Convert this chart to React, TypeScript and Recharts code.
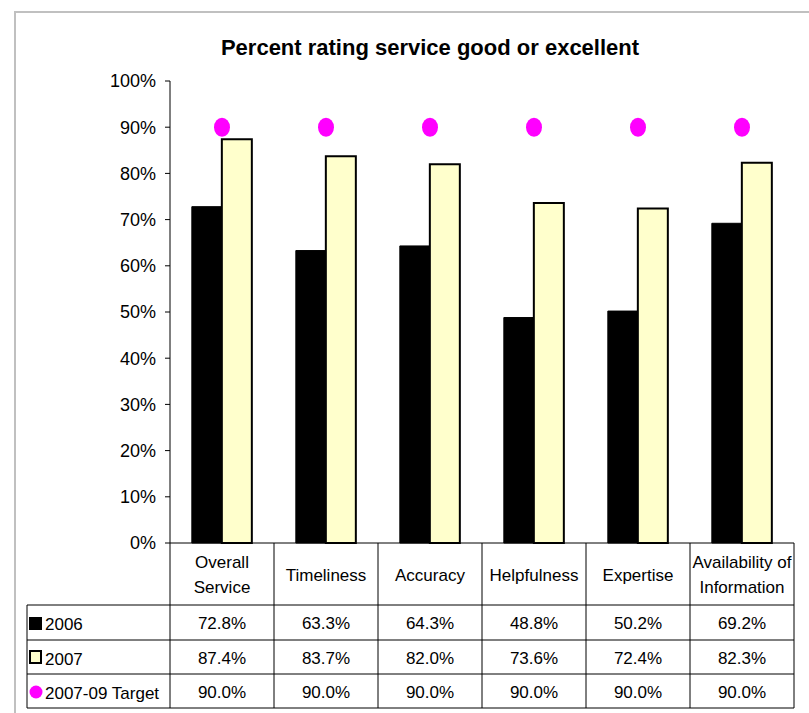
import React from "react";
import { ComposedChart, Bar, Line, XAxis, YAxis } from "recharts";

const categories = [
  "Overall Service",
  "Timeliness",
  "Accuracy",
  "Helpfulness",
  "Expertise",
  "Availability of Information",
];
const categoryLines = [
  ["Overall", "Service"],
  ["Timeliness"],
  ["Accuracy"],
  ["Helpfulness"],
  ["Expertise"],
  ["Availability of", "Information"],
];
const values2006 = [72.8, 63.3, 64.3, 48.8, 50.2, 69.2];
const values2007 = [87.4, 83.7, 82.0, 73.6, 72.4, 82.3];
const target = [90, 90, 90, 90, 90, 90];
const yTicks = [0, 10, 20, 30, 40, 50, 60, 70, 80, 90, 100];
const seriesNames = ["2006", "2007", "2007-09 Target"];
const title = "Percent rating service good or excellent";

const W = 809;
const H = 713;
const PLOT_LEFT = 170;
const PLOT_RIGHT = 794;
const PLOT_TOP = 81;
const PLOT_BOTTOM = 543;
const COL_W = (PLOT_RIGHT - PLOT_LEFT) / categories.length;
const TABLE_LEFT = 27;
const ROW_LINES = [605, 640, 674, 708];
const FONT = "Arial, 'Liberation Sans', sans-serif";

const data = categories.map((c, i) => ({
  name: c,
  v2006: values2006[i],
  v2007: values2007[i],
  target: target[i],
}));

const fmt = (v: number) => v.toFixed(1) + "%";

const CatTick = (props: any) => {
  const { x, payload } = props;
  const idx = categories.indexOf(payload.value);
  const lines = categoryLines[idx] || [payload.value];
  const headerCenter = (PLOT_BOTTOM + ROW_LINES[0]) / 2 + 1;
  const rows = [values2006[idx], values2007[idx], target[idx]];
  return (
    <g>
      {lines.map((l, i) => (
        <text
          key={i}
          x={x}
          y={headerCenter + (i - (lines.length - 1) / 2) * 25}
          dy="0.35em"
          textAnchor="middle"
          fontSize={17}
          fontFamily={FONT}
          fill="#000"
        >
          {l}
        </text>
      ))}
      {rows.map((v, r) => (
        <text
          key={"r" + r}
          x={x}
          y={(ROW_LINES[r] + ROW_LINES[r + 1]) / 2 + 1}
          dy="0.35em"
          textAnchor="middle"
          fontSize={17}
          fontFamily={FONT}
          fill="#000"
        >
          {fmt(v)}
        </text>
      ))}
      <line
        x1={x + COL_W / 2}
        x2={x + COL_W / 2}
        y1={PLOT_BOTTOM}
        y2={ROW_LINES[3]}
        stroke="#000"
        strokeWidth={1}
      />
      {idx === 0 && (
        <line
          x1={x - COL_W / 2}
          x2={x - COL_W / 2}
          y1={PLOT_BOTTOM}
          y2={ROW_LINES[3]}
          stroke="#000"
          strokeWidth={1}
        />
      )}
    </g>
  );
};

const TargetDot = (props: any) => {
  const { cx, cy, index } = props;
  if (cx == null || cy == null) return <g key={"d" + index} />;
  return <ellipse key={"d" + index} cx={cx} cy={cy} rx={8} ry={9.5} fill="#FF00FF" />;
};

export default function App() {
  return (
    <div
      style={{
        position: "absolute",
        left: 0,
        top: 0,
        width: W,
        height: H,
        background: "#fff",
        overflow: "hidden",
      }}
    >
      <div
        style={{
          position: "absolute",
          left: 14,
          top: 11,
          width: W,
          height: H,
          borderLeft: "2px solid #c0c0c0",
          borderTop: "2px solid #c0c0c0",
        }}
      />
      <div style={{ position: "absolute", left: 0, top: 0 }}>
        <ComposedChart
          width={W}
          height={H}
          data={data}
          margin={{ top: PLOT_TOP, right: W - PLOT_RIGHT, left: PLOT_LEFT - 70, bottom: 5 }}
          barCategoryGap="21%"
          barGap={0}
        >
          <XAxis
            dataKey="name"
            interval={0}
            tickLine={false}
            axisLine={{ stroke: "#000", strokeWidth: 1 }}
            height={H - PLOT_BOTTOM - 5}
            tick={<CatTick />}
          />
          <YAxis
            width={70}
            domain={[0, 100]}
            ticks={yTicks}
            tickFormatter={(v: number) => v + "%"}
            axisLine={{ stroke: "#000", strokeWidth: 1 }}
            tickLine={{ stroke: "#000", strokeWidth: 1 }}
            tickSize={5}
            tickMargin={9}
            tick={{ fontSize: 18, fontFamily: FONT, fill: "#000" }}
            interval={0}
          />
          <Bar dataKey="v2006" name={seriesNames[0]} fill="#000000" stroke="#000" strokeWidth={1} isAnimationActive={false} />
          <Bar dataKey="v2007" name={seriesNames[1]} fill="#FFFFCC" stroke="#000" strokeWidth={2} isAnimationActive={false} />
          <Line
            dataKey="target"
            name={seriesNames[2]}
            stroke="none"
            dot={<TargetDot />}
            activeDot={false}
            isAnimationActive={false}
          />
        </ComposedChart>
      </div>
      <svg
        width={W}
        height={H}
        style={{ position: "absolute", left: 0, top: 0, pointerEvents: "none" }}
      >
        <text
          x={430}
          y={47}
          dy="0.35em"
          textAnchor="middle"
          fontSize={22}
          fontWeight="bold"
          fontFamily={FONT}
          fill="#000"
        >
          {title}
        </text>
        {ROW_LINES.map((y, i) => (
          <line key={i} x1={TABLE_LEFT} x2={PLOT_RIGHT} y1={y} y2={y} stroke="#000" strokeWidth={1} />
        ))}
        <line x1={TABLE_LEFT} x2={TABLE_LEFT} y1={ROW_LINES[0]} y2={ROW_LINES[3]} stroke="#000" strokeWidth={1} />
        <rect x={29} y={617} width={13} height={13} fill="#000" />
        <rect x={30} y={651} width={11} height={12} fill="#FFFFCC" stroke="#000" strokeWidth={2} />
        <circle cx={36} cy={692} r={6.5} fill="#FF00FF" />
        {seriesNames.map((s, r) => (
          <text
            key={s}
            x={45}
            y={(ROW_LINES[r] + ROW_LINES[r + 1]) / 2 + 2}
            dy="0.35em"
            fontSize={17}
            fontFamily={FONT}
            fill="#000"
          >
            {s}
          </text>
        ))}
      </svg>
    </div>
  );
}
